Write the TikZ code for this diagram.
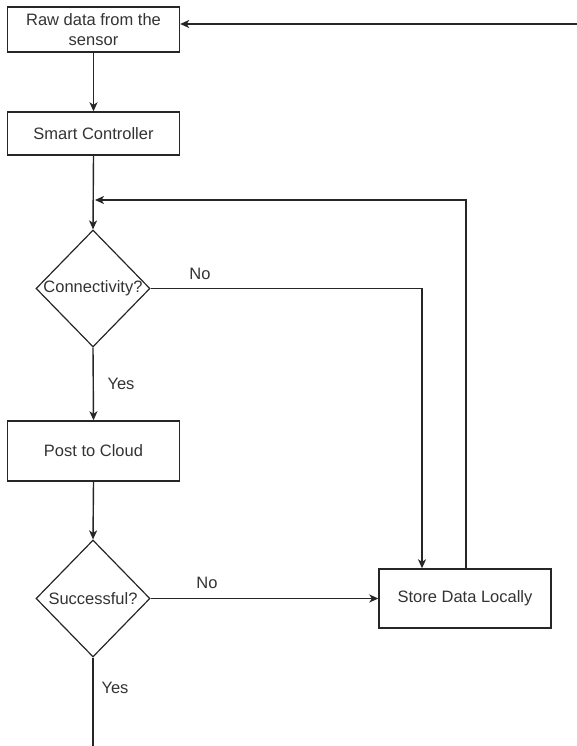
\documentclass[tikz,border=0pt]{standalone}
\usepackage{fontspec}
\setmainfont{Liberation Sans}
\usetikzlibrary{shapes.geometric,arrows.meta}

\tikzset{
  process/.style={draw=black!85, line width=1.4pt, rectangle, minimum width=172pt, inner sep=0pt, align=center, text=black!80},
  decision/.style={draw=black!85, line width=1.2pt, diamond, minimum width=114pt, minimum height=117pt, inner sep=0pt},
  label/.style={text=black!80, inner sep=0pt},
  link/.style={draw=black!85, line width=1.4pt},
  flow/.style={link, -{Stealth[length=9pt,width=8pt,inset=2.5pt]}},
}

\begin{document}
\begin{tikzpicture}[x=1pt, y=-1pt, font=\fontsize{16.5}{19.5}\selectfont]
  \useasboundingbox (0,0) rectangle (577,746);

  % process boxes
  \node[process, minimum height=45pt] (raw) at (93.5,29.5) {Raw data from the\\sensor};
  \node[process, minimum height=43pt] (ctrl) at (93.5,133.5) {Smart Controller};
  \node[process, minimum height=60pt] (post) at (93.5,451) {Post to Cloud};
  \node[process, minimum height=59pt] (store) at (465,598.5) {Store Data Locally};

  % decisions
  \node[decision] (conn) at (93,288.5) {};
  \node[label] at (conn) {Connectivity?};
  \node[decision] (succ) at (93,598.5) {};
  \node[label] at (succ) {Successful?};

  % helper points
  \coordinate (feed) at (577,24);
  \coordinate (merge) at (93,200);
  \coordinate (loopturn) at (466,200);
  \coordinate (noturn) at (422,288.5);
  \coordinate (done) at (93,746);

  % connectors
  \draw[flow] (feed) -- (feed -| raw.east);
  \draw[flow] (raw) -- (ctrl);
  \draw[flow] (ctrl.south) -- (conn.north);
  \draw[flow] (store.north -| loopturn) -- (loopturn) -- ([xshift=2pt]merge);
  \draw[flow] (conn.east) -- (noturn) -- (noturn |- store.north);
  \draw[flow] (conn.south) -- (post.north);
  \draw[flow] (post.south) -- (succ.north);
  \draw[flow] (succ.east) -- (store.west);
  \draw[link] (succ.south) -- (done);

  % branch labels
  \node[label] at (200,274) {No};
  \node[label] at (121,384) {Yes};
  \node[label] at (207,583) {No};
  \node[label] at (115,688) {Yes};
\end{tikzpicture}
\end{document}
